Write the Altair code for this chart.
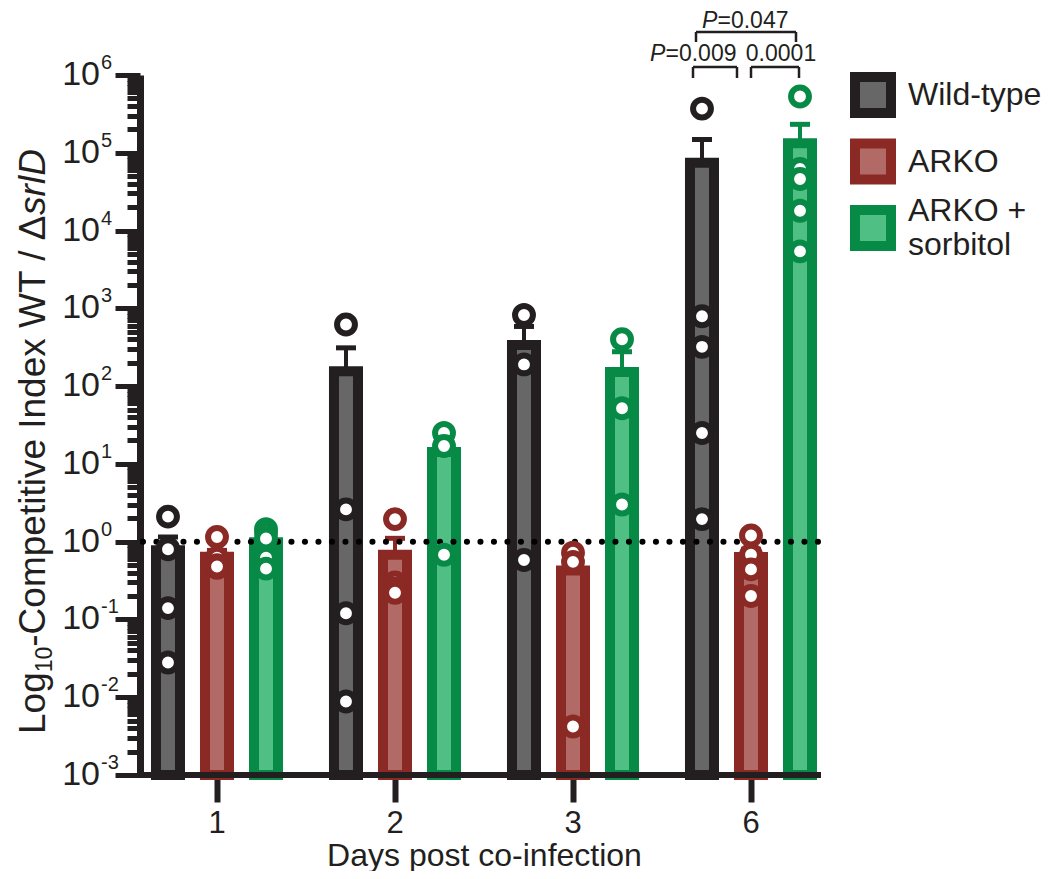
import altair as alt
import pandas as pd

# ---------------- data ----------------
days = ["1", "2", "3", "6"]
series = ["Wild-type", "ARKO", "ARKO + sorbitol"]
dark_colors = ["#231f20", "#8b2924", "#078a45"]
light_colors = ["#676767", "#b26a67", "#4fbf84"]

wt_day1 = [2.1, 0.82, 0.80, 0.14, 0.028]
wt_day2 = [620, 2.6, 0.12, 0.0088]
wt_day3 = [820, 190, 0.58]
wt_day6 = [370000, 790, 320, 25, 1.95]

arko_day1 = [1.15, 0.62, 0.50, 0.46, 0.48]
arko_day2 = [1.95, 0.30, 0.25, 0.22]
arko_day3 = [0.72, 0.55, 0.0042]
arko_day6 = [1.2, 0.65, 0.68, 0.44, 0.20]

sorb_day1 = [1.45, 1.30, 1.10, 0.62, 0.45]
sorb_day2 = [25, 17, 0.68]
sorb_day3 = [400, 52, 3.0]
sorb_day6 = [530000, 62000, 46000, 18000, 5400]

exponents = [-3, -2, -1, 0, 1, 2, 3, 4, 5, 6]

groups = {
    "Wild-type": [wt_day1, wt_day2, wt_day3, wt_day6],
    "ARKO": [arko_day1, arko_day2, arko_day3, arko_day6],
    "ARKO + sorbitol": [sorb_day1, sorb_day2, sorb_day3, sorb_day6],
}
records = []
for s in series:
    for d, vals in zip(days, groups[s]):
        for v in vals:
            records.append({"day": d, "series": s, "value": v})
df = pd.DataFrame(records)

tick_values = [m * 10.0 ** e for e in range(-3, 6) for m in range(1, 10)] + [1e6]

FONT = "Liberation Sans"
DARK = "#231f20"

# ---------------- scales / encodings ----------------
x_scale = alt.Scale(domain=days, range=[-12, 700], paddingInner=0, paddingOuter=0)
xoff_scale = alt.Scale(domain=series, paddingInner=0.51, paddingOuter=0.571)
y_scale = alt.Scale(type="log", domain=[1e-3, 1e6], nice=False)
fill_scale = alt.Scale(domain=series, range=light_colors)
stroke_scale = alt.Scale(domain=series, range=dark_colors)

x_axis = alt.Axis(
    title="Days post co-infection", domain=False, labelAngle=0, grid=False,
    labelFont=FONT, labelFontSize=31, labelColor=DARK, labelPadding=6,
    tickSize=27, tickWidth=6, tickColor=DARK,
    titleFont=FONT, titleFontSize=32, titleFontWeight="normal", titleColor=DARK,
    titlePadding=2,
)
y_axis = alt.Axis(
    values=tick_values, labels=False, title=None, grid=False,
    domainWidth=7, domainColor=DARK, tickColor=DARK, tickWidth=5,
    tickSize={"condition": {"test": "abs(log(datum.value)/LN10 - round(log(datum.value)/LN10)) < 0.001",
                            "value": 25}, "value": 13},
)

X = alt.X("day:N", scale=x_scale, sort=days, axis=x_axis)
XO = alt.XOffset("series:N", scale=xoff_scale, sort=series)

base = alt.Chart(df)
agg = base.transform_aggregate(
    mean_value="mean(value)", sem="stderr(value)", groupby=["day", "series"]
).transform_calculate(base="0.001", upper="datum.mean_value + datum.sem")

bars = agg.mark_bar(strokeWidth=10, strokeJoin="miter").encode(
    x=X, xOffset=XO,
    y=alt.Y("mean_value:Q", scale=y_scale, axis=y_axis),
    y2=alt.Y2("base:Q"),
    fill=alt.Fill("series:N", scale=fill_scale, legend=None),
    stroke=alt.Stroke("series:N", scale=stroke_scale, legend=None),
)

xline = alt.Chart(pd.DataFrame({"v": [1e-3]})).mark_rule(
    strokeWidth=6, color=DARK, strokeCap="square"
).encode(y=alt.Y("v:Q", scale=y_scale, axis=y_axis))

stem = agg.mark_rule(strokeWidth=4).encode(
    x=X, xOffset=XO,
    y=alt.Y("mean_value:Q", scale=y_scale, axis=y_axis),
    y2=alt.Y2("upper:Q"),
    stroke=alt.Stroke("series:N", scale=stroke_scale, legend=None),
)
cap = agg.mark_tick(thickness=5, size=20, opacity=1).encode(
    x=X, xOffset=XO,
    y=alt.Y("upper:Q", scale=y_scale, axis=y_axis),
    color=alt.Color("series:N", scale=stroke_scale, legend=None),
)

ref = alt.Chart(pd.DataFrame({"v": [1.0]})).mark_rule(
    strokeWidth=6, strokeDash=[0.1, 13.4], strokeCap="round", color="black"
).encode(y=alt.Y("v:Q", scale=y_scale, axis=y_axis))

pts = base.mark_point(shape="circle", size=320, strokeWidth=6, opacity=1, filled=True).encode(
    x=X, xOffset=XO,
    y=alt.Y("value:Q", scale=y_scale, axis=y_axis),
    fill=alt.value("white"),
    stroke=alt.Stroke("series:N", scale=stroke_scale, legend=None),
)

# y tick labels 10^n
lab = alt.Chart(pd.DataFrame({"e": exponents})).transform_calculate(v="pow(10, datum.e)")
ten = lab.mark_text(text="10", align="right", baseline="middle", fontSize=34,
                    font=FONT, color=DARK).encode(
    y=alt.Y("v:Q", scale=y_scale, axis=y_axis), x=alt.value(-40))
sup = lab.mark_text(align="left", baseline="middle", fontSize=20, dy=-12,
                    font=FONT, color=DARK).encode(
    y=alt.Y("v:Q", scale=y_scale, axis=y_axis), x=alt.value(-39), text="e:N")

# y axis title (rotated, mixed styles)
one = pd.DataFrame({"k": [0]})
def ttl(text, y, x=-95, size=37, style="normal"):
    return alt.Chart(one).mark_text(
        text=text, angle=270, align="left", baseline="alphabetic",
        fontSize=size, fontStyle=style, font=FONT, color=DARK,
    ).encode(x=alt.value(x), y=alt.value(y))

ytitle = [
    ttl("Log", 659),
    ttl("10", 597.3, x=-88, size=23),
    ttl("-Competitive Index WT / Δ", 571.7),
    ttl("srlD", 139.9, style="italic"),
]

# significance annotations
def seg(x1, x2, y1, y2):
    return alt.Chart(one).mark_rule(strokeWidth=2.5, color=DARK).encode(
        x=alt.value(x1), x2=alt.value(x2), y=alt.value(y1), y2=alt.value(y2))

def txt(text, x, y, align="left", style="normal"):
    return alt.Chart(one).mark_text(
        text=text, align=align, baseline="middle", fontSize=23, fontStyle=style,
        font=FONT, color=DARK).encode(x=alt.value(x), y=alt.value(y))

annot = [
    seg(556, 656, -43, -43), seg(556, 556, -43, -33), seg(656, 656, -43, -33),
    seg(553, 597, -8, -8), seg(553, 553, -8, 3), seg(597, 597, -8, 3),
    seg(611, 659, -8, -8), seg(611, 611, -8, 3), seg(659, 659, -8, 3),
    txt("P", 562, -54, style="italic"), txt("=0.047", 577.5, -54),
    txt("P", 510, -21, style="italic"), txt("=0.009", 525.5, -21),
    txt("0.0001", 641, -21, align="center"),
]

main = alt.layer(bars, xline, stem, cap, ref, pts, ten, sup, *ytitle, *annot)

# legend drawn as marks
leg = alt.Chart(pd.DataFrame({"series": series})).transform_calculate(
    lbl="replace(datum.series, ' + ', ' +\\n')",
    shift="indexof(datum.series, ' + ') >= 0 ? -17 : 0",
)
leg_y = alt.Y("series:N", scale=alt.Scale(type="point", domain=series, range=[20, 153], padding=0),
              axis=None)
leg_sq = leg.mark_square(size=1296, strokeWidth=10, opacity=1).encode(
    x=alt.value(733), y=leg_y,
    fill=alt.Fill("series:N", scale=fill_scale, legend=None),
    stroke=alt.Stroke("series:N", scale=stroke_scale, legend=None),
)
leg_tx = leg.mark_text(align="left", baseline="middle", fontSize=32, font=FONT,
                       color=DARK, lineBreak="\n", lineHeight=34).encode(
    x=alt.value(768), y=leg_y, yOffset=alt.YOffset("shift:Q", scale=None), text="lbl:N")
legend = alt.layer(leg_sq, leg_tx)

chart = alt.layer(main, legend).resolve_scale(y="independent").properties(
    width=678, height=700,
    autosize=alt.AutoSizeParams(type="none"),
    padding={"left": 132, "top": 67, "right": 224, "bottom": 96},
    background="white",
).configure_view(stroke=None)

chart.save("out.html", embed_options={"renderer": "svg", "actions": False})
